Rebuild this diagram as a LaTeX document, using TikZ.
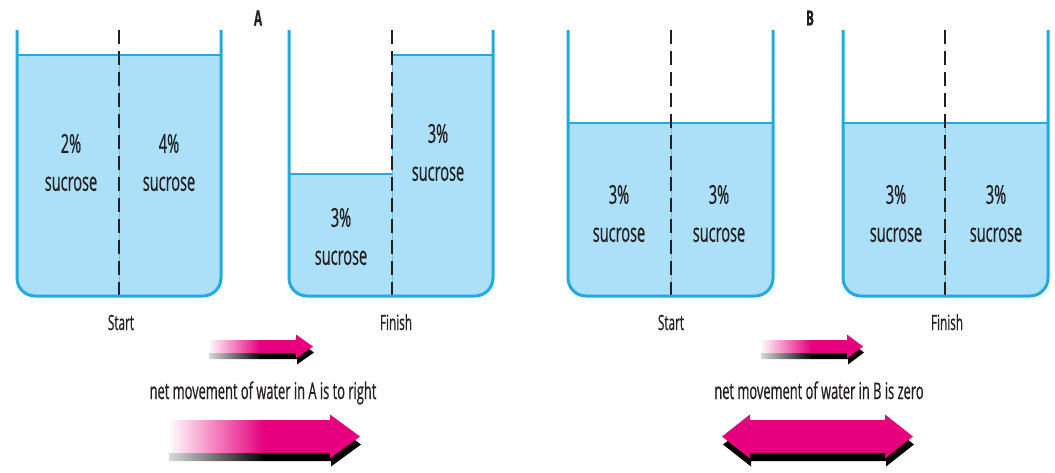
\documentclass[tikz,border=0pt]{standalone}
\usepackage{fontspec}
\setmainfont{Open Sans}[FakeStretch=0.56, RawFeature={embolden=0.6}]

\definecolor{wall}{RGB}{35,168,224}
\definecolor{water}{RGB}{172,224,248}
\definecolor{arrowpink}{RGB}{230,0,126}
\definecolor{ink}{RGB}{35,31,32}

% left-to-right fades for the arrow bodies and their shadows
\pgfdeclarehorizontalshading{pinkfade}{100bp}{color(0bp)=(white); color(25bp)=(white); color(50bp)=(arrowpink); color(100bp)=(arrowpink)}
\pgfdeclarehorizontalshading{blackfade}{100bp}{color(0bp)=(white); color(25bp)=(white!85!black); color(50bp)=(black); color(100bp)=(black)}

% beaker walls: #1 left wall, #2 right wall
\newcommand\beakerwalls[2]{%
  \draw[wall, line width=3pt, rounded corners=18pt] (#1,30) -- (#1,296) -- (#2,296) -- (#2,30);
}
% water in one compartment: #1,#2 beaker walls, #3,#4 compartment x range, #5 surface y
\newcommand\waterblock[5]{%
  \begin{scope}
    \clip (#3,#5) rectangle (#4,300);
    \fill[water, rounded corners=18pt] (#1,0) rectangle (#2,296);
  \end{scope}
  \draw[wall, line width=2pt] (#3,#5) -- (#4,#5);
}
% membrane: #1 x, #2 top of water next to it
\newcommand\membrane[2]{%
  \draw[wall!70, line width=1pt] (#1,#2) -- (#1,296);
  \draw[ink, line width=1.8pt, dash pattern=on 14pt off 7pt] (#1,30) -- (#1,296);
}
% single arrow outline: #1 tail x, #2 centre y, #3 body half height, #4 head base x, #5 head half height, #6 tip x
\newcommand\arrowpath[6]{(#1,#2-#3) -- (#4,#2-#3) -- (#4,#2-#5) -- (#6,#2) -- (#4,#2+#5) -- (#4,#2+#3) -- (#1,#2+#3) -- cycle}

\tikzset{
  conc/.style={font=\fontsize{26}{38}\selectfont, align=center, inner sep=0pt, text=ink},
  stage/.style={font=\fontsize{21}{21}\selectfont, anchor=base, inner sep=0pt, text=ink},
  caption/.style={font=\fontsize{23}{23}\selectfont, anchor=base, inner sep=0pt, text=ink},
  panel/.style={font=\bfseries\fontsize{21}{21}\selectfont, inner sep=0pt, text=ink},
}

\begin{document}
\begin{tikzpicture}[x=1pt, y=-1pt]
\useasboundingbox (0,0) rectangle (1055,472);

% ---------- A, start ----------
\waterblock{17}{221}{17}{221}{55}
\membrane{119}{55}
\beakerwalls{17}{221}

% ---------- A, finish ----------
\waterblock{289}{493}{289}{392}{174}
\waterblock{289}{493}{392}{493}{55}
\membrane{392}{55}
\beakerwalls{289}{493}

% ---------- B, start ----------
\waterblock{568}{773}{568}{773}{123}
\membrane{671}{123}
\beakerwalls{568}{773}

% ---------- B, finish ----------
\waterblock{843}{1048}{843}{1048}{123}
\membrane{945}{123}
\beakerwalls{843}{1048}

% ---------- labels ----------
\node[panel] (labA) at (258,18) {A};
\node[panel] (labB) at (810,18) {B};

\node[conc] (a1l) at (71,162.5) {2\%\\sucrose};
\node[conc] (a1r) at (169,162.5) {4\%\\sucrose};
\node[conc] (a2l) at (341,236.5) {3\%\\sucrose};
\node[conc] (a2r) at (438,152.5) {3\%\\sucrose};
\node[conc] (b1l) at (619,213.5) {3\%\\sucrose};
\node[conc] (b1r) at (719,213.5) {3\%\\sucrose};
\node[conc] (b2l) at (896,213.5) {3\%\\sucrose};
\node[conc] (b2r) at (996,213.5) {3\%\\sucrose};

\node[stage] (startA) at (121,330) {Start};
\node[stage] (finishA) at (396,330) {Finish};
\node[stage] (startB) at (671,330) {Start};
\node[stage] (finishB) at (947,330) {Finish};

\node[caption] (capA) at (263,399) {net movement of water in A is to right};
\node[caption] (capB) at (819,399) {net movement of water in B is zero};

% ---------- arrows, A ----------
\shade[shading=blackfade] [shift={(1,6)}] \arrowpath{208}{346.5}{6.5}{296}{12}{313};
\shade[shading=pinkfade] \arrowpath{208}{346.5}{6.5}{296}{12}{313};

\shade[shading=blackfade] [shift={(1,8)}] \arrowpath{168}{436.5}{16.5}{330}{22}{360};
\shade[shading=pinkfade] \arrowpath{168}{436.5}{16.5}{330}{22}{360};

% ---------- arrows, B ----------
\shade[shading=blackfade] [shift={(1,6)}] \arrowpath{760}{346.5}{6.5}{847}{12}{863};
\shade[shading=pinkfade] \arrowpath{760}{346.5}{6.5}{847}{12}{863};

\fill[black] [shift={(1,8)}] (722,436.5) -- (750,414.5) -- (750,420) -- (885,420) -- (885,414.5) -- (913,436.5) -- (885,458.5) -- (885,453) -- (750,453) -- (750,458.5) -- cycle;
\fill[arrowpink] (722,436.5) -- (750,414.5) -- (750,420) -- (885,420) -- (885,414.5) -- (913,436.5) -- (885,458.5) -- (885,453) -- (750,453) -- (750,458.5) -- cycle;

\end{tikzpicture}
\end{document}
